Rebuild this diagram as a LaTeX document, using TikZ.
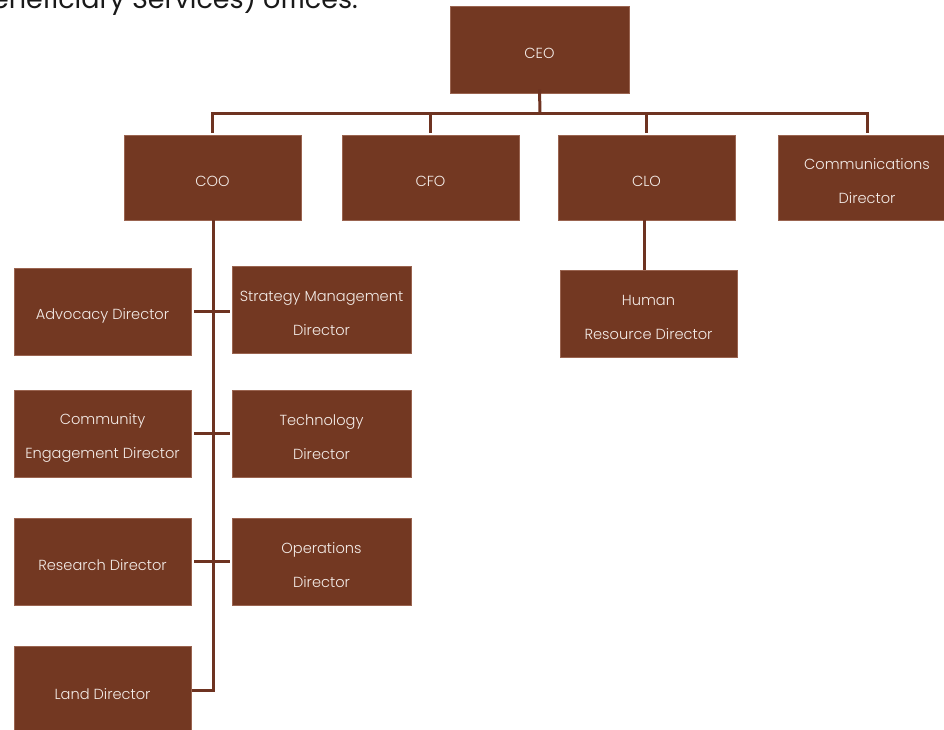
\documentclass[tikz,border=0pt]{standalone}
\usepackage{fontspec}
\setmainfont{Poppins}[UprightFont={Poppins Light}]
\newfontfamily\headfont{Poppins}
\definecolor{boxfill}{HTML}{733822}
\definecolor{boxedge}{HTML}{9A6450}
\definecolor{linkcol}{HTML}{6E3321}
\definecolor{labelcol}{HTML}{F4ECE8}
\begin{document}
\begin{tikzpicture}[x=1pt,y=-1pt,
  role/.style={rectangle, fill=boxfill, draw=boxedge, line width=0.6pt,
    minimum width=177pt, minimum height=87pt, inner sep=0pt},
  lbl/.style={text=labelcol, align=center, inner sep=0pt, yshift=-4pt,
    font=\fontsize{14.6}{34}\selectfont},
  link/.style={draw=linkcol, line width=3pt}]
\useasboundingbox (0,0) rectangle (944,730);

% heading line running in from the previous page
\node[anchor=base east, inner sep=0pt, text=black!90,
  font=\headfont\fontsize{27}{30}\selectfont] (head) at (358,9) {Beneficiary Services) offices.};

% executive level
\node[role, minimum width=179pt, label={[lbl]center:CEO}] (ceo) at (539.5,49.5) {};
\node[role, minimum height=85pt, label={[lbl]center:COO}] (coo) at (212.5,177.5) {};
\node[role, minimum height=85pt, label={[lbl]center:CFO}] (cfo) at (430.5,177.5) {};
\node[role, minimum height=85pt, label={[lbl]center:CLO}] (clo) at (646.5,177.5) {};
\node[role, minimum height=85pt, minimum width=178pt,
  label={[lbl]center:{Communications\\Director}}] (comms) at (867,177.5) {};

% under the CLO
\node[role, label={[lbl]center:{Human\\Resource Director}}] (hr) at (648.5,313.5) {};

% under the COO, left column
\node[role, label={[lbl]center:{Advocacy Director}}] (adv) at (102.5,311.5) {};
\node[role, label={[lbl]center:{Community\\Engagement Director}}] (cen) at (102.5,433.5) {};
\node[role, label={[lbl]center:{Research Director}}] (res) at (102.5,561.5) {};
\node[role, label={[lbl]center:{Land Director}}] (land) at (102.5,690) {};

% under the COO, right column
\node[role, minimum width=179pt, label={[lbl]center:{Strategy Management\\Director}}] (strat) at (321.5,309.5) {};
\node[role, minimum width=179pt, label={[lbl]center:{Technology\\Director}}] (tech) at (321.5,433.5) {};
\node[role, minimum width=179pt, label={[lbl]center:{Operations\\Director}}] (ops) at (321.5,561.5) {};

% CEO to the executive row
\coordinate (bus) at (540,114);
\draw[link] ([yshift=4pt]ceo.south) -- (bus);
\draw[link] (211,114) -- (869,114);
\draw[link] (coo.north |- bus) -- ([yshift=2pt]coo.north);
\draw[link] (cfo.north |- bus) -- ([yshift=2pt]cfo.north);
\draw[link] (clo.north |- bus) -- ([yshift=2pt]clo.north);
\draw[link] (comms.north |- bus) -- ([yshift=2pt]comms.north);

% CLO to HR
\draw[link] ([xshift=-2.5pt]clo.south) -- ([xshift=-4.5pt]hr.north);

% COO trunk down to the land director
\coordinate (trunk) at (213,690);
\draw[link] (coo.south -| trunk) -- (trunk) -- ([xshift=1pt]land.east);

% director pairs hanging off the trunk
\draw[link, shorten <=3pt, shorten >=2pt] (adv.east) -- (adv.east -| strat.west);
\draw[link, shorten <=3pt, shorten >=2pt] (cen.east) -- (cen.east -| tech.west);
\draw[link, shorten <=3pt, shorten >=2pt] (res.east) -- (res.east -| ops.west);
\end{tikzpicture}
\end{document}
